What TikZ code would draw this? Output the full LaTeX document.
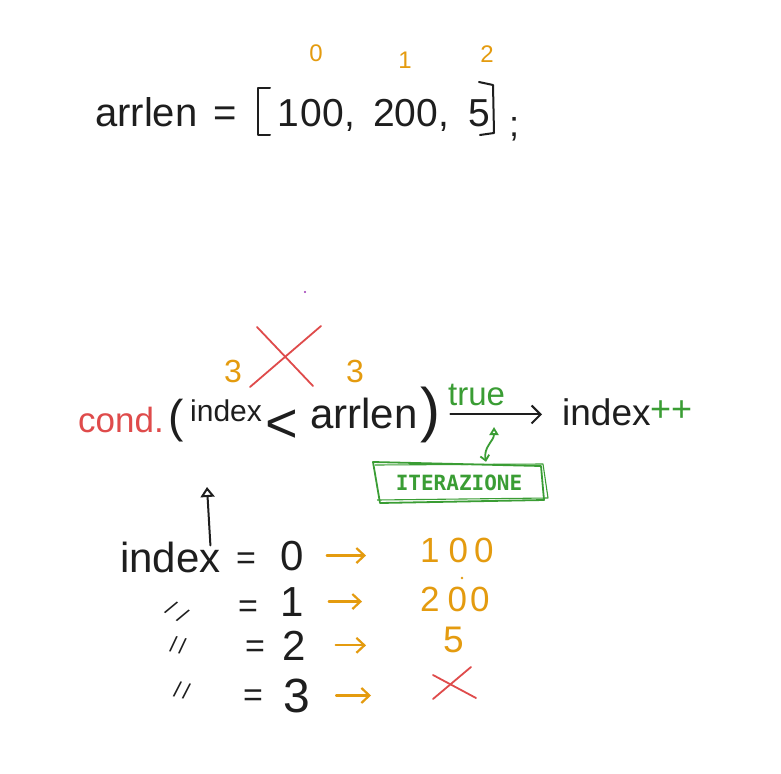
\documentclass[tikz,border=0pt]{standalone}
\usepackage{fontspec}
\setmainfont{Liberation Sans}
\setmonofont{DejaVu Sans Mono}
\usetikzlibrary{arrows.meta}
\definecolor{ink}{HTML}{1E1E1E}
\definecolor{sko}{HTML}{E49B0F}
\definecolor{skr}{HTML}{DF4B4B}
\definecolor{skg}{HTML}{3A9D34}
\definecolor{skp}{HTML}{9C36B5}
\tikzset{
  txt/.style={inner sep=0pt, anchor=base west, text=ink},
  fs/.style={font=\fontsize{#1pt}{#1pt}\selectfont},
  otxt/.style={txt, text=sko},
  olab/.style={inner sep=0pt, anchor=base, text=sko, fs=24},
  oarrow/.style={draw=sko, line width=2.2pt, line cap=round, line join=round, -{Straight Barb[length=8pt,width=15pt,line width=2.2pt]}},
  karrow/.style={draw=ink, line width=2pt, line cap=round, line join=round, -{Straight Barb[length=9pt,width=18pt,line width=2pt]}},
  redx/.style={draw=skr, line width=1.8pt, line cap=round},
  ditto/.style={inner sep=0pt, text=ink, fs=22},
  sketchbox/.style={draw=skg, line width=1.8pt, line join=round},
}
\begin{document}
\begin{tikzpicture}[x=1pt,y=-1pt]
\useasboundingbox[fill=white] (0,0) rectangle (781,773);

% ---- top line: arrlen = [100, 200, 5];
\node[txt,fs=40] (arr) at (95,126) {arrlen};
\node[txt,fs=40] (eqtop) at (213,126) {=};
\draw[ink, line width=2pt, line join=round, line cap=round] (270,88) -- (258,88) -- (258,135) -- (270,135);
\node[txt,fs=39] (v1) at (277,126) {1\hspace{2pt}00,};
\node[txt,fs=39] (v2) at (373,126) {200,};
\node[txt,fs=39] (v3) at (468,126) {5};
\draw[ink, line width=2pt, line join=round, line cap=round] (479,82) -- (493,85) -- (494,133) -- (480,135);
\node[txt,fs=36] (semi) at (509,136) {;};
\node[olab] (i0) at (316,62) {0};
\node[olab] (i1) at (405,69) {1};
\node[olab] (i2) at (487,63) {2};

% ---- purple dot
\fill[skp] (305,292) circle (1.2);

% ---- crossed-out 3 / 3
\node[otxt,fs=32] (t3a) at (224,382) {3};
\node[otxt,fs=32] (t3b) at (346,382) {3};
\draw[redx] (257,327) -- (313,386);
\draw[redx] (321,326) -- (250,387);

% ---- condition line
\node[txt,fs=35,text=skr] (cond) at (78,432) {cond.};
\node[txt,fs=46] (lpar) at (168,432) {(};
\node[txt,fs=30] (idxc) at (190,421) {index};
\node[txt,fs=56] (lt) at (265,442) {<};
\node[txt,fs=42] (arrc) at (310,428) {arrlen};
\node[txt,fs=60] (rpar) at (420,430) {)};
\node[txt,fs=33,text=skg] (true) at (448,405) {true};
\node[txt,fs=37] (idx2) at (562,425) {index};
\node[txt,fs=36,text=skg] (pp) at (650,421) {++};
\draw[karrow, shorten <=10pt, shorten >=20pt] (rpar.east) -- (rpar.east -| idx2.west);

% ---- ITERAZIONE box
\node[inner sep=0pt, minimum width=172pt, minimum height=40pt, text=skg,
      font=\fontsize{21pt}{21pt}\selectfont\ttfamily\bfseries] (box) at (459,483) {ITERAZIONE};
\draw[sketchbox] (373,462) -- (541,466) -- (544,500) -- (380,503) -- cycle;
\draw[sketchbox, line width=1.1pt] (375,465) -- (543,464) -- (548,498) -- (377,500);
\coordinate (trueArr) at (494,427);
\draw[skg, line width=1.8pt, line cap=round,
      {Straight Barb[length=5pt,width=9pt,line width=1.8pt]}-{Triangle[open,length=8pt,width=9pt,line width=1.8pt]}]
      ([xshift=27pt,yshift=1pt]box.north) .. controls (483,447) and (494,441) .. (trueArr);

% ---- index rows
\node[txt,fs=42] (idx1) at (120,572) {index};
\coordinate (upE) at (207,487);
\draw[ink, line width=2pt, line cap=round, -{Triangle[open,length=10pt,width=14pt,line width=2pt]}]
      ([xshift=40pt,yshift=-4pt]idx1.north) -- (upE);

\node[txt,fs=34] (e0) at (236,569) {=};
\node[txt,fs=42] (d0) at (280,570) {0};
\node[otxt,fs=35] (r0) at (420,562) {1\hspace{9pt}0\hspace{6pt}0};
\draw[oarrow, shorten <=23pt, shorten >=54pt] (d0.east) -- (d0.east -| r0.west);

\node[ditto, rotate=-35] (q1) at (177,612) {/\hspace{8pt}/};
\node[txt,fs=34] (e1) at (238,617) {=};
\node[txt,fs=42] (d1) at (280,616) {1};
\node[otxt,fs=35] (r1) at (420,611) {2\hspace{8pt}0\hspace{3pt}0};
\fill[sko] (462,578) circle (1.3);
\draw[oarrow, shorten <=25pt, shorten >=58pt] (d1.east) -- (d1.east -| r1.west);

\node[ditto, rotate=-10] (q2) at (178,645) {/\hspace{3pt}/};
\node[txt,fs=34] (e2) at (245,657) {=};
\node[txt,fs=42] (d2) at (282,660) {2};
\node[otxt,fs=37] (r2) at (443,652) {5};
\draw[oarrow, shorten <=30pt, shorten >=77pt] (d2.east) -- (d2.east -| r2.west);

\node[ditto, rotate=-12] (q3) at (182,690) {/\hspace{3pt}/};
\node[txt,fs=34] (e3) at (243,706) {=};
\node[txt,fs=48] (d3) at (283,712) {3};
\coordinate (xmark) at (454,684);
\draw[redx] (433,699) -- (471,667);
\draw[redx] (433,675) -- (476,698);
\draw[oarrow, shorten <=26pt, shorten >=83pt] (d3.east) -- (d3.east -| xmark);
\end{tikzpicture}
\end{document}
